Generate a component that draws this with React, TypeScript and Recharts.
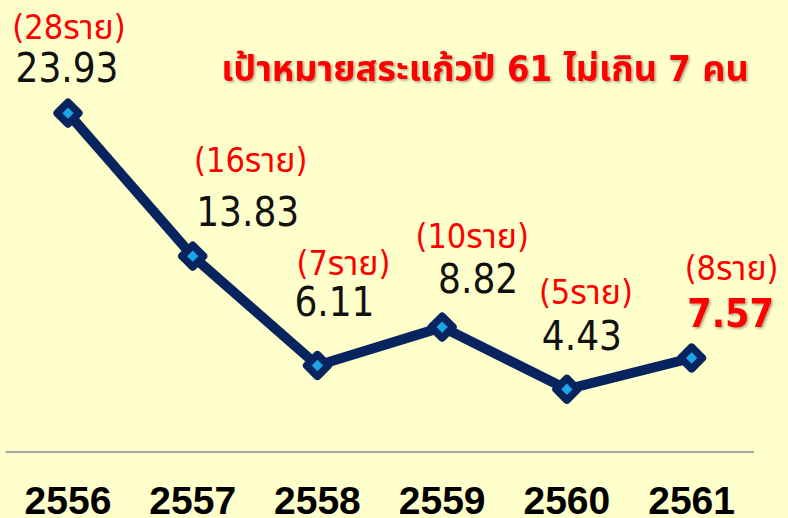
import React from 'react';
import { LineChart, Line, XAxis, YAxis, LabelList } from 'recharts';

const years = ['2556', '2557', '2558', '2559', '2560', '2561'];
const rates = [23.93, 13.83, 6.11, 8.82, 4.43, 6.64];
const rateLabels = ['23.93', '13.83', '6.11', '8.82', '4.43', '7.57'];
const caseLabels = ['(28ราย)', '(16ราย)', '(7ราย)', '(10ราย)', '(5ราย)', '(8ราย)'];
const titleText = 'เป้าหมายสระแก้วปี 61 ไม่เกิน 7 คน';

const data = years.map((year, i) => ({ year, rate: rates[i] }));

// label placement (dx, dy from the point to the label centre)
const caseOffsets = [[1, -86], [58, -96], [26, -102], [30, -91], [19, -97], [40, -90]];
const rateOffsets = [[-1, -46], [55, -45], [17, -64], [36, -49], [15, -54], [39, -45]];

const NAVY = '#07245F';
const BLUE = '#1CA6E8';
const BG = '#FFFFCC';
const FONT = "'DejaVu Sans Condensed', 'Noto Sans Thai', 'Noto Sans', sans-serif";

const Diamond = (props: any) => {
  const { cx, cy, index } = props;
  if (cx == null || cy == null) return null;
  return (
    <g key={`d${index}`}>
      <rect x={cx - 11.5} y={cy - 11.5} width={23} height={23} rx={4} fill={NAVY}
        transform={`rotate(45 ${cx} ${cy})`} />
      <rect x={cx - 4} y={cy - 4} width={8} height={8} fill={BLUE}
        transform={`rotate(45 ${cx} ${cy})`} />
    </g>
  );
};

const PointLabels = (props: any) => {
  const { x, y, index } = props;
  if (x == null || y == null) return null;
  const last = index === rateLabels.length - 1;
  const [cdx, cdy] = caseOffsets[index];
  const [rdx, rdy] = rateOffsets[index];
  return (
    <g>
      <text x={x + cdx} y={y + cdy + 12} textAnchor="middle" fill="#FF0000"
        style={{ fontFamily: FONT, fontSize: 34 }}>{caseLabels[index]}</text>
      <text x={x + rdx} y={y + rdy + 14.5} textAnchor="middle" fill={last ? '#FF0000' : '#111111'}
        filter={last ? 'url(#shadow)' : undefined}
        style={{ fontFamily: FONT, fontSize: last ? 39 : 40, fontWeight: last ? 700 : 400 }}>
        {rateLabels[index]}
      </text>
    </g>
  );
};

const YearTick = (props: any) => {
  const { x, y, payload } = props;
  return (
    <text x={x} y={y + 62} textAnchor="middle" fill="#000000"
      style={{ fontFamily: "'Liberation Sans', Arial, sans-serif", fontSize: 39, fontWeight: 700 }}>
      {payload.value}
    </text>
  );
};

export default function App() {
  return (
    <div style={{ position: 'absolute', left: 0, top: 0, width: 788, height: 518, background: BG, overflow: 'hidden' }}>
      <svg width={0} height={0} style={{ position: 'absolute' }}>
        <defs>
          <filter id="shadow" x="-10%" y="-10%" width="130%" height="140%">
            <feDropShadow dx="1.5" dy="1.5" stdDeviation="1" floodColor="#000000" floodOpacity="0.35" />
          </filter>
        </defs>
      </svg>
      <LineChart width={788} height={518} data={data} margin={{ top: 98, right: 34, left: 5.6, bottom: 0 }}>
        <XAxis dataKey="year" type="category" height={66} tickLine={false} tickSize={0} tickMargin={0}
          padding={{ left: 62.4, right: 62.4 }}
          axisLine={{ stroke: '#A8A8A8', strokeWidth: 2 }} tick={<YearTick />} interval={0} />
        <YAxis hide domain={[0, 25]} />
        <Line type="linear" dataKey="rate" stroke={NAVY} strokeWidth={10} dot={<Diamond />}
          activeDot={false} isAnimationActive={false}>
          <LabelList dataKey="rate" content={<PointLabels />} />
        </Line>
      </LineChart>
      <svg width={788} height={120} style={{ position: 'absolute', left: 0, top: 0, pointerEvents: 'none' }}>
        <defs>
          <filter id="tshadow" x="-5%" y="-20%" width="110%" height="150%">
            <feDropShadow dx="1.5" dy="1.5" stdDeviation="1" floodColor="#000000" floodOpacity="0.35" />
          </filter>
        </defs>
        <text x={485} y={81} textAnchor="middle" fill="#FF0000" filter="url(#tshadow)"
          style={{ fontFamily: FONT, fontSize: 36, fontWeight: 700 }}>{titleText}</text>
      </svg>
    </div>
  );
}
